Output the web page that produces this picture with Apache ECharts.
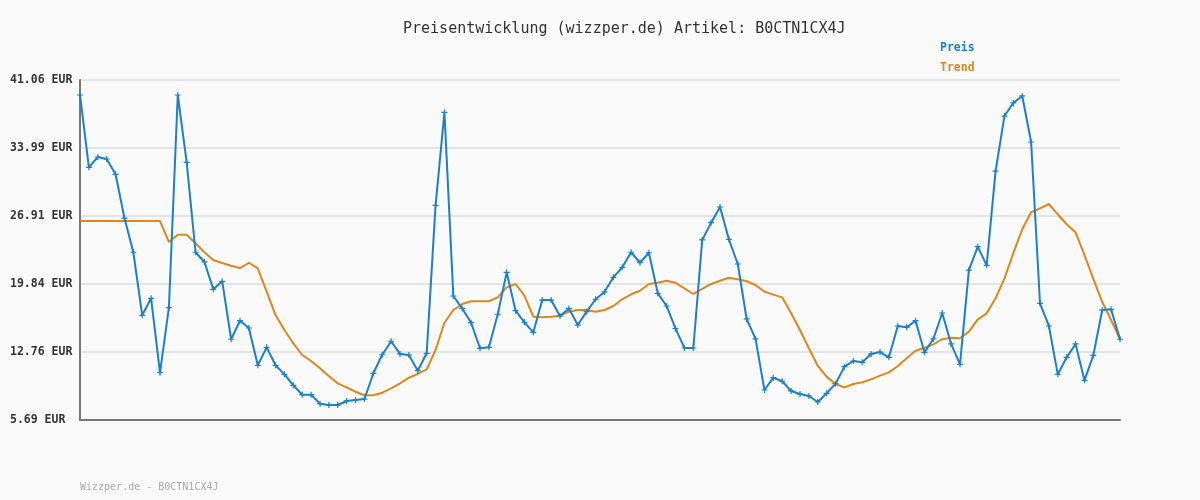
<!DOCTYPE html>
<html>
<head>
<meta charset="utf-8">
<script src="https://cdn.jsdelivr.net/npm/echarts@6/dist/echarts.min.js"></script>
<style>
  html, body { margin: 0; padding: 0; background: #fafafa; }
  #chart { width: 1200px; height: 500px; }
</style>
</head>
<body>
<div id="chart"></div>
<script>
// Preisverlauf (118 Messpunkte)
var preis = [
  39.50, 31.98, 33.05, 32.84, 31.25, 26.70, 23.14, 16.58, 18.35, 10.61,
  17.37, 39.50, 32.50, 23.14, 22.13, 19.28, 20.12, 14.09, 16.02, 15.26,
  11.38, 13.25, 11.38, 10.44, 9.30, 8.32, 8.32, 7.39, 7.25, 7.25,
  7.67, 7.77, 7.87, 10.55, 12.48, 13.88, 12.56, 12.45, 10.82, 12.63,
  28.02, 37.70, 18.59, 17.30, 15.81, 13.15, 13.25, 16.69, 21.05, 17.06,
  15.85, 14.81, 18.17, 18.17, 16.51, 17.30, 15.57, 16.96, 18.25, 19.01,
  20.53, 21.57, 23.14, 22.05, 23.09, 18.87, 17.55, 15.19, 13.18, 13.18,
  24.42, 26.22, 27.85, 24.49, 21.92, 16.20, 14.12, 8.81, 10.09, 9.72,
  8.71, 8.39, 8.19, 7.56, 8.47, 9.47, 11.24, 11.83, 11.69, 12.56,
  12.76, 12.21, 15.47, 15.33, 16.02, 12.73, 14.12, 16.82, 13.60, 11.48,
  21.29, 23.72, 21.78, 31.59, 37.31, 38.67, 39.40, 34.61, 17.83, 15.47,
  10.44, 12.21, 13.60, 9.82, 12.42, 17.13, 17.20, 14.09
];
var trend = [
  26.39, 26.39, 26.39, 26.39, 26.39, 26.39, 26.39, 26.39, 26.39, 26.39,
  24.21, 24.97, 24.97, 24.07, 23.14, 22.34, 22.02, 21.74, 21.50, 22.05,
  21.47, 19.04, 16.61, 15.05, 13.67, 12.45, 11.83, 11.07, 10.27, 9.50,
  9.09, 8.63, 8.26, 8.26, 8.53, 8.99, 9.50, 10.09, 10.48, 10.96,
  12.97, 15.81, 17.13, 17.76, 18.04, 18.04, 18.04, 18.45, 19.49, 19.84,
  18.62, 16.44, 16.37, 16.44, 16.54, 16.96, 17.13, 17.13, 16.96, 17.13,
  17.55, 18.25, 18.77, 19.14, 19.84, 19.97, 20.18, 19.97, 19.39, 18.80,
  19.32, 19.84, 20.18, 20.49, 20.33, 20.12, 19.73, 19.04, 18.73, 18.45,
  16.79, 15.05, 13.15, 11.34, 10.20, 9.44, 9.09, 9.44, 9.61, 9.92,
  10.30, 10.65, 11.31, 12.11, 12.90, 13.21, 13.56, 14.09, 14.25, 14.19,
  14.88, 16.16, 16.79, 18.35, 20.43, 23.04, 25.53, 27.30, 27.71, 28.16,
  27.09, 26.05, 25.22, 22.86, 20.36, 17.99, 16.09, 14.09
];
var yTicks = [5.69, 12.76, 19.84, 26.91, 33.99, 41.06];
var tage = [];
for (var i = 0; i < preis.length; i++) { tage.push(String(i + 1)); }

var mono = 'DejaVu Sans Mono';
var blau = '#1a80cf';
var orange = '#e0861a';

var chart = echarts.init(document.getElementById('chart'));
chart.setOption({
  backgroundColor: '#fafafa',
  animation: false,
  title: {
    text: 'Preisentwicklung (wizzper.de) Artikel: B0CTN1CX4J',
    left: 398,
    top: 17,
    textStyle: { fontFamily: mono, fontSize: 15, fontWeight: 'normal', color: '#333' }
  },
  legend: {
    orient: 'vertical',
    left: 935,
    top: 37,
    itemGap: 8,
    itemWidth: 0,
    itemHeight: 0,
    icon: 'rect',
    data: [
      { name: 'Preis', textStyle: { color: blau } },
      { name: 'Trend', textStyle: { color: orange } }
    ],
    textStyle: { fontFamily: mono, fontSize: 11.5, fontWeight: 'bold', padding: [0, 0, 0, -5] }
  },
  grid: { left: 80, right: 80, top: 80, bottom: 80 },
  xAxis: {
    type: 'category',
    boundaryGap: false,
    data: tage,
    axisLine: { lineStyle: { color: '#777', width: 2 } },
    axisTick: { show: false },
    axisLabel: { show: false },
    splitLine: { show: false }
  },
  yAxis: {
    type: 'value',
    min: yTicks[0],
    max: yTicks[yTicks.length - 1],
    interval: (yTicks[yTicks.length - 1] - yTicks[0]) / (yTicks.length - 1),
    axisLine: { show: true, lineStyle: { color: '#777', width: 2 } },
    axisTick: { show: false },
    axisLabel: {
      align: 'left',
      margin: 70,
      fontFamily: mono,
      fontSize: 11.5,
      fontWeight: 'bold',
      color: '#333',
      formatter: function (v) { return v.toFixed(2) + ' EUR'; }
    },
    splitLine: { lineStyle: { color: '#e4e4e4', width: 2 } }
  },
  series: [
    {
      name: 'Preis',
      type: 'line',
      data: preis,
      showSymbol: true,
      showAllSymbol: true,
      symbol: 'path://M2,0 L3,0 L3,2 L5,2 L5,3 L3,3 L3,5 L2,5 L2,3 L0,3 L0,2 L2,2 Z',
      symbolSize: 6,
      itemStyle: { color: blau },
      lineStyle: { color: blau, width: 2 },
      z: 3
    },
    {
      name: 'Trend',
      type: 'line',
      data: trend,
      symbol: 'none',
      itemStyle: { color: orange },
      lineStyle: { color: orange, width: 2 },
      z: 2
    }
  ],
  graphic: [{
    type: 'text',
    left: 80,
    top: 482,
    style: { text: 'Wizzper.de - B0CTN1CX4J', fontFamily: mono, fontSize: 10, fill: '#aaa' }
  }]
});
</script>
</body>
</html>
